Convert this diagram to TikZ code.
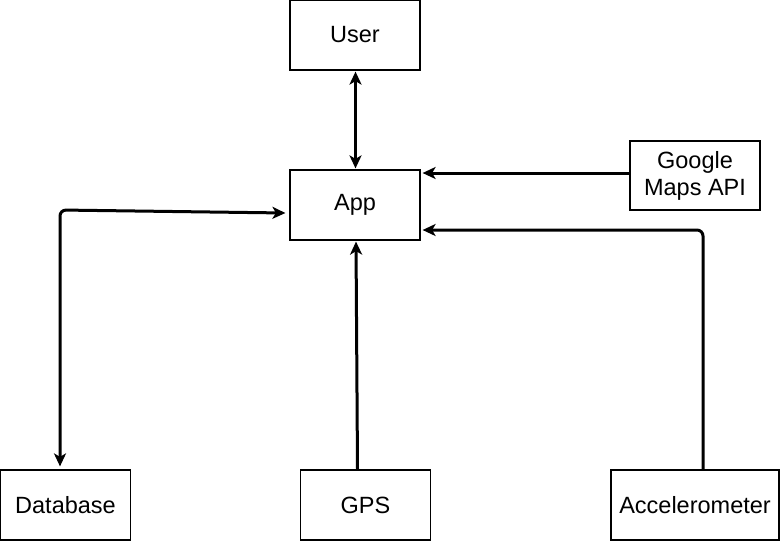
\documentclass[tikz,border=0pt]{standalone}
\usepackage{fontspec}
\setmainfont{Liberation Sans}
\usetikzlibrary{arrows.meta}
\begin{document}
\begin{tikzpicture}[x=1pt,y=-1pt,
  box/.style={draw,line width=1.2pt,inner sep=0pt,align=center,
    font=\fontsize{23.5}{27}\selectfont},
  conn/.style={line width=3pt,rounded corners=6pt},
  arr/.style={conn,-{Stealth[length=13pt,width=12pt,inset=3.5pt]}},
  arrb/.style={conn,{Stealth[length=13pt,width=12pt,inset=3.5pt]}-{Stealth[length=13pt,width=12pt,inset=3.5pt]}}]
\useasboundingbox (0,0) rectangle (781,541);
\node[box,minimum width=130pt,minimum height=70pt] (user) at (355,35) {User};
\node[box,minimum width=130pt,minimum height=70pt] (app) at (355,205) {App};
\node[box,minimum width=130pt,minimum height=69pt] (google) at (695,175.5) {Google\\Maps API};
\node[box,minimum width=130pt,minimum height=70pt] (db) at (65.5,505) {Database};
\node[box,minimum width=130pt,minimum height=70pt] (gps) at (365.5,505) {GPS};
\node[box,minimum width=168pt,minimum height=70pt] (acc) at (695,505) {Accelerometer};
\coordinate (dbc) at (60,210);
\coordinate (accc) at (703,230);
\draw[arrb] ([xshift=0.5pt,yshift=-1pt]user.south) -- ([xshift=0.5pt,yshift=1pt]app.north);
\draw[arr] ([yshift=2.5pt]google.west) -- ([xshift=2pt,yshift=2.5pt]google.west -| app.east);
\draw[arr] ([xshift=8pt]acc.north) -- (accc) -- ([xshift=2pt,yshift=-25pt]app.east);
\draw[arrb] ([xshift=-5.5pt,yshift=3pt]db.north) -- (dbc) -- ([xshift=-4pt,yshift=-8pt]app.west);
\draw[arr] ([xshift=-8pt]gps.north) -- ([xshift=1pt,yshift=-1pt]app.south);
\end{tikzpicture}
\end{document}
